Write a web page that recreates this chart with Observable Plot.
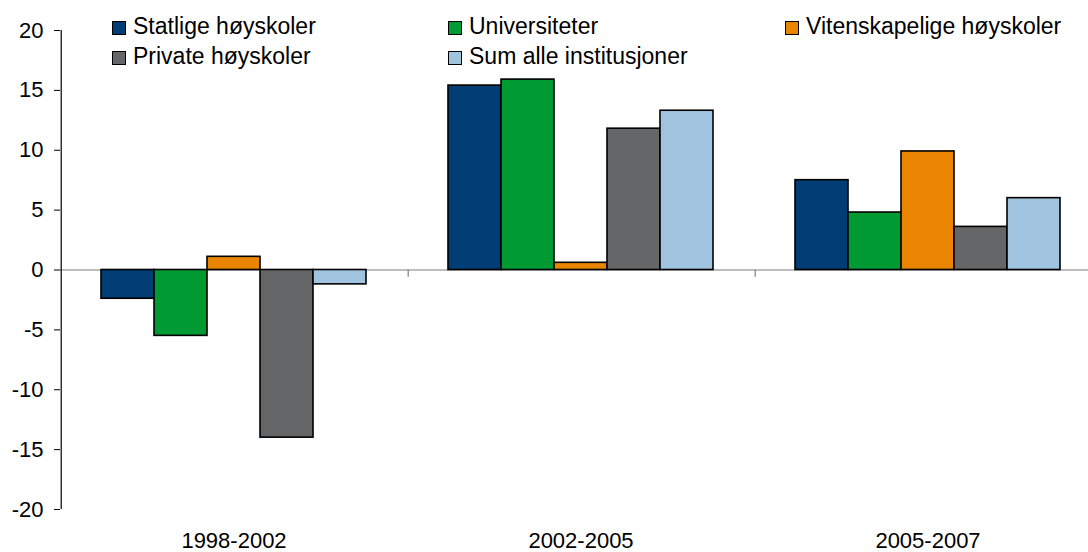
<!DOCTYPE html>
<html>
<head>
<meta charset="utf-8">
<script src="https://cdn.jsdelivr.net/npm/d3@7"></script>
<script src="https://cdn.jsdelivr.net/npm/@observablehq/plot@0.6"></script>
<style>
  html, body { margin: 0; padding: 0; background: #fff; }
  #wrap { position: relative; width: 1088px; height: 552px; overflow: hidden; font-family: "Liberation Sans", Arial, sans-serif; }
  #chart { position: absolute; left: 0; top: 0; width: 1101px; }
  #chart svg { max-width: none !important; width: 1101px !important; height: 552px !important; }
  .leg { position: absolute; font-size: 23px; line-height: 29px; color: #000; white-space: nowrap; }
  .sw { position: absolute; width: 12px; height: 12px; border: 1px solid #000; }
</style>
</head>
<body>
<div id="wrap">
  <div id="chart"></div>
  <div id="legend"></div>
</div>
<script>
const periods = ["1998-2002", "2002-2005", "2005-2007"];
const series = ["Statlige høyskoler", "Universiteter", "Vitenskapelige høyskoler", "Private høyskoler", "Sum alle institusjoner"];
const statlige = [-2.4, 15.4, 7.5];
const universiteter = [-5.5, 15.9, 4.8];
const vitenskapelige = [1.1, 0.6, 9.9];
const privateHs = [-14.0, 11.8, 3.6];
const sumAlle = [-1.2, 13.3, 6.0];
const colors = ["#003d74", "#009a33", "#e98500", "#656667", "#a0c4e0"];
const yTicks = [-20, -15, -10, -5, 0, 5, 10, 15, 20];

const valuesBySeries = [statlige, universiteter, vitenskapelige, privateHs, sumAlle];
const rows = [];
periods.forEach((p, i) => series.forEach((s, j) => rows.push({period: p, series: s, value: valuesBySeries[j][i]})));

const stepPx = 1042 / 3 / 6.5;
const edgeDx = -1.25 * stepPx;

const chart = Plot.plot({
  width: 1101,
  height: 552,
  marginLeft: 59,
  marginRight: 0,
  marginTop: 30,
  marginBottom: 43,
  style: {fontFamily: "Liberation Sans, Arial, sans-serif", fontSize: "22px", color: "#000", background: "transparent"},
  fx: {domain: periods, padding: 0, label: null},
  x: {domain: series, paddingInner: 0, paddingOuter: 0.75, axis: null},
  y: {domain: [-20, 20], label: null},
  color: {domain: series, range: colors},
  marks: [
    Plot.ruleY([0], {stroke: "#7f7f7f", strokeWidth: 1.2}),
    Plot.barY(rows, {fx: "period", x: "series", y: "value", fill: "series", stroke: "#000", strokeWidth: 1.6}),
    Plot.ruleX(periods.slice(1).map(p => ({p, s: series[0]})), {fx: "p", x: "s", y1: 0, y2: -0.6, dx: edgeDx, stroke: "#7f7f7f", strokeWidth: 1.2}),
    Plot.ruleX([{p: periods[0], s: series[0]}], {fx: "p", x: "s", dx: edgeDx, stroke: "#000", strokeWidth: 1.2}),
    Plot.axisY({ticks: yTicks, tickSize: 6, tickPadding: 11, fontSize: 22, stroke: "#000", label: null, tickFormat: d => String(d)}),
    Plot.axisFx({anchor: "bottom", tickSize: 0, tickPadding: 23, fontSize: 22, label: null})
  ]
});
document.getElementById("chart").appendChild(chart);

const legendPos = [
  {x: 112, y: 0}, {x: 448, y: 0}, {x: 785, y: 0},
  {x: 112, y: 1}, {x: 448, y: 1}
];
const legend = document.getElementById("legend");
series.forEach((s, i) => {
  const pos = legendPos[i];
  const top = 12 + pos.y * 29.5;
  const sw = document.createElement("div");
  sw.className = "sw";
  sw.style.left = pos.x + "px";
  sw.style.top = (top + 9) + "px";
  sw.style.background = colors[i];
  legend.appendChild(sw);
  const t = document.createElement("div");
  t.className = "leg";
  t.style.left = (pos.x + 21) + "px";
  t.style.top = top + "px";
  t.textContent = s;
  legend.appendChild(t);
});
</script>
</body>
</html>
